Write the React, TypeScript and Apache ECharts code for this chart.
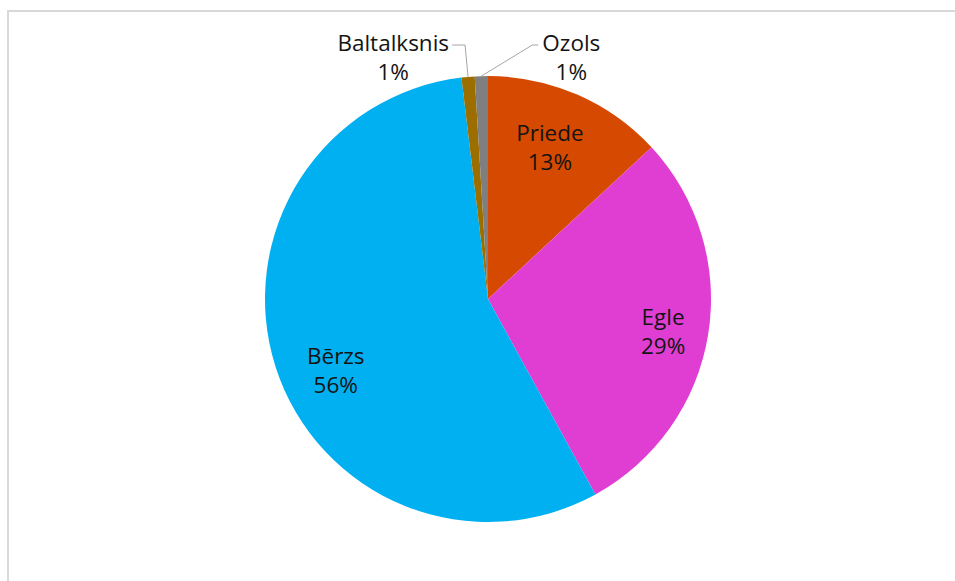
import React, { useEffect, useRef } from "react";
import * as echarts from "echarts";

const categories = ["Priede", "Egle", "Bērzs", "Baltalksnis", "Ozols"];
const values = [13.1, 28.9, 56.1, 0.95, 0.95];
const colors = ["#D54A00", "#E03ED2", "#00B0F0", "#9C6E00", "#7F7F7F"];

const CX = 488;
const CY = 299;
const R = 223;
const INNER_K = 0.75;
const INNER_TWEAK: number[][] = [[-5, 1], [10, 5], [7, 20]];
const FONT = "'Open Sans', Lato, sans-serif";

export default function App() {
  const ref = useRef<HTMLDivElement>(null);
  useEffect(() => {
    const chart = echarts.init(ref.current!, null, { renderer: "svg" });
    const total = values.reduce((a, b) => a + b, 0);
    const mids: number[] = [];
    let acc = 0;
    values.forEach((v) => {
      mids.push(((acc + v / 2) / total) * Math.PI * 2);
      acc += v;
    });
    chart.setOption({
      animation: false,
      backgroundColor: "#ffffff",
      graphic: [
        {
          type: "rect",
          shape: { x: 8, y: 11, width: 1200, height: 1200 },
          style: { fill: "none", stroke: "#d9d9d9", lineWidth: 2 },
          silent: true,
          z: -10,
        },
      ],
      series: [
        {
          type: "pie",
          center: [CX, CY],
          radius: [0, R],
          startAngle: 90,
          clockwise: true,
          percentPrecision: 0,
          avoidLabelOverlap: false,
          data: categories.map((c, i) => ({
            name: c,
            value: values[i],
            itemStyle: { color: colors[i] },
          })),
          itemStyle: { borderColor: "#ffffff", borderWidth: 0 },
          label: {
            show: true,
            position: "outside",
            formatter: "{b}\n{d}%",
            fontFamily: FONT,
            fontSize: 22.5,
            lineHeight: 29,
            color: "#141414",
            align: "center",
          },
          labelLine: {
            show: true,
            lineStyle: { color: "#a6a6a6", width: 1 },
          },
          labelLayout: (p: any) => {
            const i = p.dataIndex;
            const a = mids[i];
            const w = p.labelRect.width;
            if (i < 3) {
              const r = R * INNER_K;
              return {
                x: CX + r * Math.sin(a) + INNER_TWEAK[i][0],
                y: CY - r * Math.cos(a) + INNER_TWEAK[i][1],
                align: "center",
                verticalAlign: "middle",
                labelLinePoints: [
                  [CX, CY],
                  [CX, CY],
                  [CX, CY],
                ],
              };
            }
            const ex = CX + R * Math.sin(a);
            const ey = CY - R * Math.cos(a);
            const ly = CY - R - 31;
            if (i === 3) {
              const endX = ex - 16;
              return {
                x: endX - 3 - w / 2,
                y: ly + 12,
                align: "center",
                verticalAlign: "middle",
                labelLinePoints: [
                  [ex, ey],
                  [ex - 3, ly],
                  [endX, ly],
                ],
              };
            }
            const elbowX = ex + 51;
            const endX = elbowX + 6;
            return {
              x: endX + 4 + w / 2,
              y: ly + 12,
              align: "center",
              verticalAlign: "middle",
              labelLinePoints: [
                [ex, ey],
                [elbowX, ly],
                [endX, ly],
              ],
            };
          },
        },
      ],
    });
    return () => chart.dispose();
  }, []);
  return (
    <div
      ref={ref}
      style={{ position: "absolute", left: 0, top: 0, width: 955, height: 581 }}
    />
  );
}
